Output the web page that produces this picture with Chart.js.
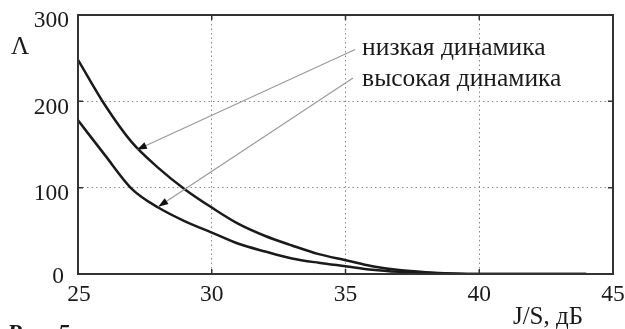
<!DOCTYPE html>
<html>
<head>
<meta charset="utf-8">
<script src="https://cdn.jsdelivr.net/npm/chart.js@4/dist/chart.umd.min.js"></script>
<style>
  html, body { margin: 0; padding: 0; background: #fff; }
  #wrap { width: 625px; height: 329px; position: relative; }
</style>
</head>
<body>
<div id="wrap"><canvas id="chart"></canvas></div>
<script>
// --- Data ---
const jsDb = [25, 26, 27, 28, 29, 30, 31, 32, 33, 34, 35, 36, 37, 38, 39, 40, 41, 42, 43, 44];
// низкая динамика (upper curve)
const lowDynamics = [248, 196, 153, 123, 98, 77, 58, 44, 33, 23, 16, 9, 4.5, 2, 0.6, 0, 0, 0, 0, 0];
// высокая динамика (lower curve)
const highDynamics = [178, 138, 99, 77, 61, 48, 35, 26, 18, 13, 9, 5, 2.5, 1, 0.3, 0, 0, 0, 0, 0];

const xTicks = [25, 30, 35, 40, 45];
const yTicks = [0, 100, 200, 300];

// annotation labels: text anchor and arrow start/tip, in data units
const labelTexts = ['низкая динамика', 'высокая динамика'];
const labelAt = [[35.62, 262], [35.62, 226]];
const arrowFrom = [[35.36, 260], [35.28, 227]];
const arrowTo = [[27.2, 144], [28.0, 78]];

const FONT = "'Liberation Serif', 'DejaVu Serif', serif";
const INK = '#1a1a1a';

// draws frame, inner ticks, labels and arrows on top of the chart
const decorations = {
    id: 'decorations',
    afterDraw(chart) {
        const { ctx, chartArea: a, scales: { x, y } } = chart;
        ctx.save();

        // frame
        ctx.strokeStyle = '#333';
        ctx.lineWidth = 2;
        ctx.setLineDash([]);
        ctx.strokeRect(a.left, a.top, a.right - a.left, a.bottom - a.top);

        // inner tick marks on all four sides
        ctx.lineWidth = 1.5;
        ctx.beginPath();
        xTicks.forEach(v => {
            const px = x.getPixelForValue(v);
            ctx.moveTo(px, a.bottom); ctx.lineTo(px, a.bottom - 5);
            ctx.moveTo(px, a.top); ctx.lineTo(px, a.top + 5);
        });
        yTicks.forEach(v => {
            const py = y.getPixelForValue(v);
            ctx.moveTo(a.left, py); ctx.lineTo(a.left + 5, py);
            ctx.moveTo(a.right, py); ctx.lineTo(a.right - 5, py);
        });
        ctx.stroke();

        // tick labels
        ctx.fillStyle = INK;
        ctx.font = '23.5px ' + FONT;
        ctx.textBaseline = 'middle';
        ctx.textAlign = 'right';
        yTicks.forEach(v => {
            const py = y.getPixelForValue(v);
            const dx = v === 0 ? 14 : 9;
            ctx.fillText(String(v), a.left - dx, py + (v === 0 ? 3 : 6));
        });
        ctx.textAlign = 'center';
        xTicks.forEach(v => {
            const px = x.getPixelForValue(v);
            ctx.fillText(String(v), px + (v === 25 ? 1 : 0), a.bottom + 21);
        });

        // axis titles
        ctx.font = '25px ' + FONT;
        ctx.fillText('Λ', 20, 47);
        ctx.fillText('J/S, дБ', 548, 317);

        // arrows
        for (let i = 0; i < arrowFrom.length; i++) {
            const x0 = x.getPixelForValue(arrowFrom[i][0]);
            const y0 = y.getPixelForValue(arrowFrom[i][1]);
            const x1 = x.getPixelForValue(arrowTo[i][0]);
            const y1 = y.getPixelForValue(arrowTo[i][1]);
            ctx.strokeStyle = '#9a9a9a';
            ctx.lineWidth = 1.2;
            ctx.beginPath();
            ctx.moveTo(x0, y0); ctx.lineTo(x1, y1);
            ctx.stroke();
            const ang = Math.atan2(y1 - y0, x1 - x0);
            const len = 10, half = 3.5;
            const bx = x1 - len * Math.cos(ang), by = y1 - len * Math.sin(ang);
            ctx.fillStyle = '#111';
            ctx.beginPath();
            ctx.moveTo(x1, y1);
            ctx.lineTo(bx + half * Math.sin(ang), by - half * Math.cos(ang));
            ctx.lineTo(bx - half * Math.sin(ang), by + half * Math.cos(ang));
            ctx.closePath();
            ctx.fill();
        }

        // annotation text
        ctx.fillStyle = INK;
        ctx.textAlign = 'left';
        ctx.font = '25.5px ' + FONT;
        labelTexts.forEach((t, i) => {
            ctx.fillText(t, x.getPixelForValue(labelAt[i][0]), y.getPixelForValue(labelAt[i][1]));
        });

        // figure caption (cut at the bottom edge)
        ctx.font = 'italic bold 24px ' + FONT;
        ctx.textBaseline = 'top';
        ctx.fillText('Рис. 5', 7, 322);

        ctx.restore();
    }
};

const toPoints = vals => jsDb.map((v, i) => ({ x: v, y: vals[i] }));

new Chart(document.getElementById('chart'), {
    type: 'line',
    data: {
        datasets: [
            { label: 'низкая динамика', data: toPoints(lowDynamics) },
            { label: 'высокая динамика', data: toPoints(highDynamics) }
        ]
    },
    options: {
        responsive: true,
        maintainAspectRatio: false,
        animation: false,
        layout: { padding: { left: 78, top: 15, right: 12, bottom: 55 } },
        elements: {
            line: { borderColor: INK, borderWidth: 2.5, cubicInterpolationMode: 'monotone' },
            point: { radius: 0 }
        },
        plugins: { legend: { display: false }, tooltip: { enabled: false } },
        scales: {
            x: {
                type: 'linear', min: 25, max: 45,
                ticks: { display: false, stepSize: 5 },
                grid: { color: '#8a8a8a', lineWidth: 1, drawTicks: false },
                border: { display: false, dash: [1.5, 3] }
            },
            y: {
                min: 0, max: 300,
                ticks: { display: false, stepSize: 100 },
                grid: { color: '#8a8a8a', lineWidth: 1, drawTicks: false },
                border: { display: false, dash: [1.5, 3] }
            }
        }
    },
    plugins: [decorations]
});
</script>
</body>
</html>
